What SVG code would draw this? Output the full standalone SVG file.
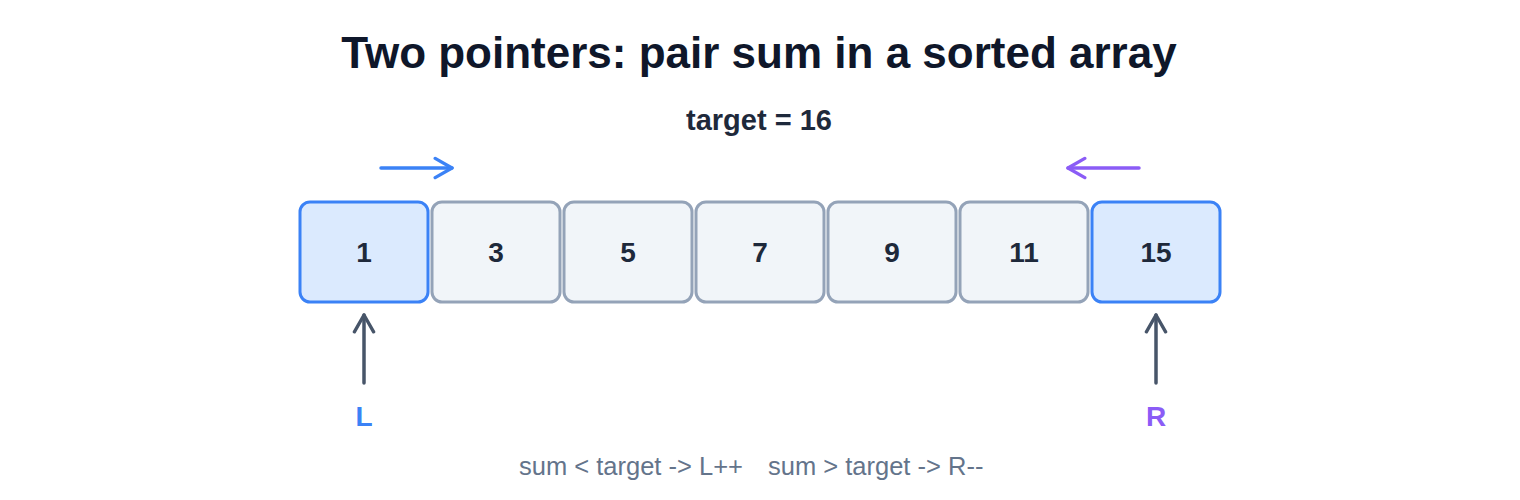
<svg xmlns="http://www.w3.org/2000/svg" width="1520" height="500" viewBox="0 0 1520 500">
<style>
.t{font-family:"Liberation Sans",Arial,sans-serif;text-anchor:middle}
.s{font-family:"Liberation Sans",Arial,sans-serif;font-size:25.5px;fill:#64748b}
.cell{fill:#f1f5f9;stroke:#94a3b8;stroke-width:3}
.hl{fill:#dbeafe;stroke:#3b82f6;stroke-width:3}
.num{font-size:28px;font-weight:bold;fill:#1e293b}
</style>
<defs>
<marker id="hb" viewBox="0 0 10 10" refX="8" refY="5" markerWidth="24" markerHeight="24" orient="auto" markerUnits="userSpaceOnUse"><path d="M1,1 L8,5 L1,9" fill="none" stroke="#3b82f6" stroke-width="1.4" stroke-linecap="round" stroke-linejoin="round"/></marker>
<marker id="hp" viewBox="0 0 10 10" refX="8" refY="5" markerWidth="24" markerHeight="24" orient="auto" markerUnits="userSpaceOnUse"><path d="M1,1 L8,5 L1,9" fill="none" stroke="#8b5cf6" stroke-width="1.4" stroke-linecap="round" stroke-linejoin="round"/></marker>
<marker id="hd" viewBox="0 0 10 10" refX="8" refY="5" markerWidth="24" markerHeight="24" orient="auto" markerUnits="userSpaceOnUse"><path d="M1,1 L8,5 L1,9" fill="none" stroke="#475569" stroke-width="1.4" stroke-linecap="round" stroke-linejoin="round"/></marker>
</defs>
<rect width="1520" height="500" fill="#ffffff"/>
<text class="t" x="759" y="68" font-size="44" font-weight="bold" fill="#0f172a">Two pointers: pair sum in a sorted array</text>
<text class="t" x="759" y="130" font-size="29" font-weight="bold" fill="#1e293b">target = 16</text>
<g id="cell0"><rect class="hl" x="300" y="202" width="128" height="100" rx="10"/><text class="t num" x="364" y="262">1</text></g>
<g id="cell1"><rect class="cell" x="432" y="202" width="128" height="100" rx="10"/><text class="t num" x="496" y="262">3</text></g>
<g id="cell2"><rect class="cell" x="564" y="202" width="128" height="100" rx="10"/><text class="t num" x="628" y="262">5</text></g>
<g id="cell3"><rect class="cell" x="696" y="202" width="128" height="100" rx="10"/><text class="t num" x="760" y="262">7</text></g>
<g id="cell4"><rect class="cell" x="828" y="202" width="128" height="100" rx="10"/><text class="t num" x="892" y="262">9</text></g>
<g id="cell5"><rect class="cell" x="960" y="202" width="128" height="100" rx="10"/><text class="t num" x="1024" y="262">11</text></g>
<g id="cell6"><rect class="hl" x="1092" y="202" width="128" height="100" rx="10"/><text class="t num" x="1156" y="262">15</text></g>
<g id="connectors" fill="none" stroke-width="3.5" stroke-linecap="round">
<line x1="381" y1="168" x2="452" y2="168" stroke="#3b82f6" marker-end="url(#hb)"/>
<line x1="1139" y1="168" x2="1068" y2="168" stroke="#8b5cf6" marker-end="url(#hp)"/>
<line x1="364" y1="383" x2="364" y2="315" stroke="#475569" marker-end="url(#hd)"/>
<line x1="1156" y1="383" x2="1156" y2="315" stroke="#475569" marker-end="url(#hd)"/>
</g>
<g id="labelL"><text class="t" x="364" y="426" font-size="28" font-weight="bold" fill="#3b82f6">L</text></g>
<g id="labelR"><text class="t" x="1156" y="426" font-size="28" font-weight="bold" fill="#8b5cf6">R</text></g>
<text class="s" x="519" y="475">sum &lt; target -&gt; L++</text>
<text class="s" x="768" y="475">sum &gt; target -&gt; R--</text>
</svg>
